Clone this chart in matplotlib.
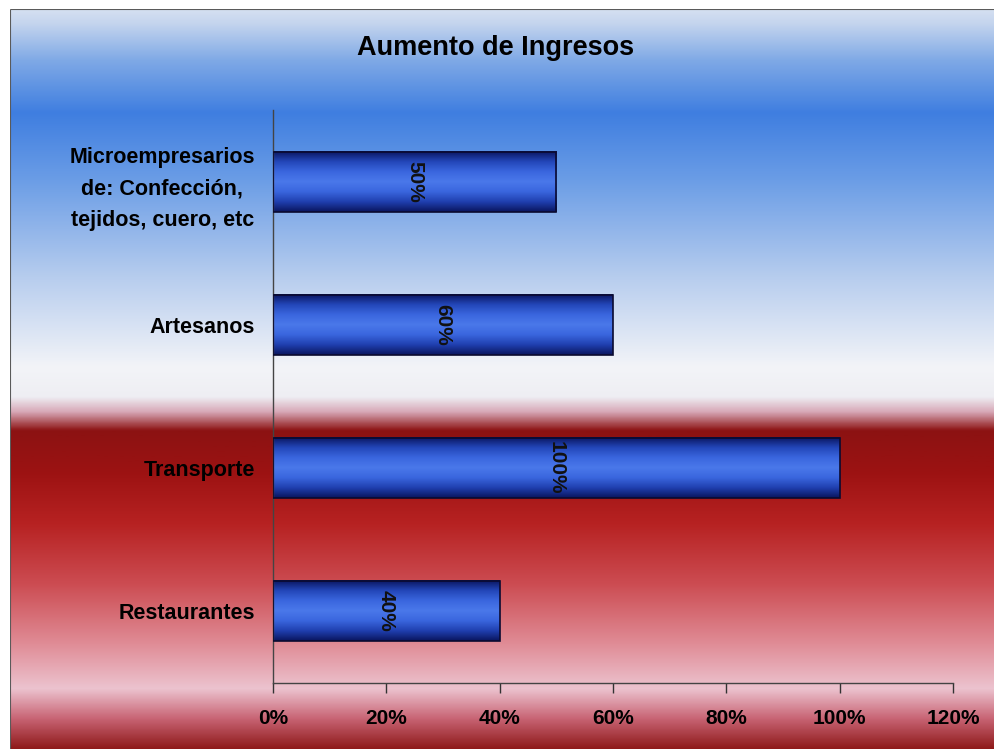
import numpy as np
import matplotlib.pyplot as plt
from matplotlib.colors import LinearSegmentedColormap, to_rgb

categories = ["Microempresarios\nde: Confección,\ntejidos, cuero, etc", "Artesanos", "Transporte", "Restaurantes"]
values = [0.50, 0.60, 1.00, 0.40]
xticks = [0, 0.2, 0.4, 0.6, 0.8, 1.0, 1.2]
title = "Aumento de Ingresos"

# background colour stops (fraction from top, colour)
bg_stops = [(0.00, "#dfe7f3"), (0.03, "#c5d5ee"), (0.08, "#7fa9e6"), (0.15, "#3f7ee0"),
            (0.24, "#6b9de6"), (0.37, "#b7cdee"), (0.49, "#f3f4f8"), (0.53, "#eeeef3"),
            (0.55, "#d7a7b6"), (0.575, "#8c1212"), (0.63, "#9c1212"), (0.70, "#b72222"),
            (0.78, "#cc4c52"), (0.86, "#e08c96"), (0.92, "#ecc3cf"), (0.96, "#c86474"),
            (1.00, "#8f1a1a")]

plt.rcParams['font.family'] = ["Liberation Sans", "DejaVu Sans"]

W, H = 994, 749
fig = plt.figure(figsize=(W / 100, H / 100), dpi=100)

# full figure gradient background
bg = fig.add_axes([0, 0, 1, 1])
bg.set_axis_off()
n = 600
pos = np.linspace(0, 1, n)
cols = np.array([to_rgb(c) for _, c in bg_stops])
fr = np.array([f for f, _ in bg_stops])
grad = np.stack([np.interp(pos, fr, cols[:, k]) for k in range(3)], axis=1)
bg.imshow(grad[:, None, :], aspect='auto', extent=[0, 1, 1, 0])
bg.set_xlim(0, 1)
bg.set_ylim(1, 0)
# chart frame
bg.plot([10 / W, 10 / W, 1], [1, 9 / H, 9 / H], color="#333333", lw=1.5)
# white strip above and left of frame
bg.fill_between([0, 1], 0, 8 / H, color="white", zorder=3)
bg.fill_betweenx([0, 1], 0, 9 / W, color="white", zorder=3)

ax = fig.add_axes([273 / W, 1 - 683 / H, (953 - 273) / W, (683 - 110) / H])
ax.patch.set_alpha(0)
y = np.arange(len(categories))
bars = ax.barh(y, values, height=0.42, facecolor="none", edgecolor="#0a0a30", lw=1.2, zorder=3)

# blue cylinder-like gradient for each bar
bar_cmap = LinearSegmentedColormap.from_list(
    "bar", ["#0a1660", "#2346b8", "#3a66de", "#4a78ea", "#3a66de", "#2040b0", "#0a1660"])
g = np.linspace(0, 1, 100)[:, None]
for b in bars:
    x0, y0, w, h = b.get_x(), b.get_y(), b.get_width(), b.get_height()
    ax.imshow(g, cmap=bar_cmap, aspect='auto', extent=[x0, x0 + w, y0 + h, y0], zorder=2)

for yi, v in zip(y, values):
    ax.text(v / 2, yi, f"{v:.0%}", rotation=270, ha='center', va='center',
            fontsize=15, fontweight='bold', color="#111111", zorder=4)

ax.set_xlim(0, 1.2)
ax.set_ylim(len(categories) - 0.5, -0.5)
ax.set_xticks(xticks)
ax.set_xticklabels([f"{t:.0%}" for t in xticks], fontsize=15, fontweight='bold')
ax.set_yticks(y)
ax.set_yticklabels(categories, fontsize=15.5, fontweight='bold', linespacing=1.65)
for lab in ax.get_yticklabels():
    lab.set_multialignment('center')
ax.tick_params(axis='x', length=7, width=1, color="#333333", pad=12, direction='out')
ax.tick_params(axis='y', length=0, pad=13)
for s in ['top', 'right']:
    ax.spines[s].set_visible(False)
for s in ['left', 'bottom']:
    ax.spines[s].set_color("#444444")
    ax.spines[s].set_linewidth(1)

fig.text(496 / W, 1 - 48 / H, title, ha='center', va='center', fontsize=19.5,
         fontweight='bold')

fig.savefig("out.png", dpi=100)
